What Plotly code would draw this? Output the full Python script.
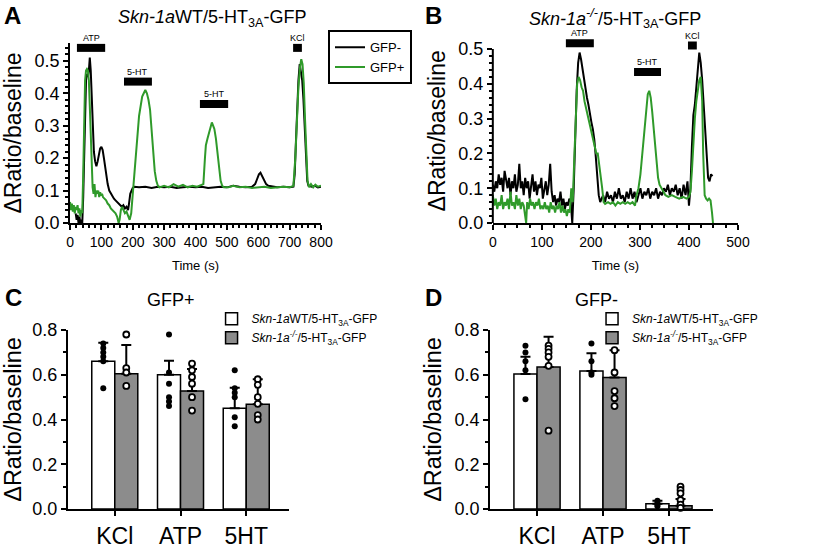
import plotly.graph_objects as go

FONT = "Liberation Sans, Arial, sans-serif"
GREEN = "#2f9a2a"
GRAY = "#8c8c8c"

# ---- panel A traces (Skn-1a WT) ----
a_pos_t = [0, 3, 6, 9, 12, 15, 18, 21, 24, 27, 30, 33, 36, 39, 42, 45, 48, 51, 54, 57,
           60, 63, 66, 69, 72, 75, 78, 81, 84, 87, 90, 93, 96, 99, 102, 105, 110, 115, 120, 125,
           130, 135, 140, 145, 150, 155, 158, 162, 166, 170, 175, 180, 185, 190, 195, 200, 205, 210, 215, 220,
           225, 230, 235, 240, 245, 250, 255, 260, 265, 270, 275, 280, 285, 300, 315, 330, 345, 360, 375, 390,
           405, 420, 425, 430, 433, 438, 443, 448, 452, 456, 460, 465, 470, 475, 480, 485, 490, 505, 520, 540,
           560, 580, 600, 620, 640, 660, 680, 700, 712, 718, 723, 728, 733, 737, 741, 745, 749, 753, 757, 762,
           768, 775, 782, 790, 800]
a_pos_v = [0.065, 0.04, 0.06, 0.035, 0.055, 0.03, 0.05, 0.04, 0.055, 0.03, 0.045, 0.02, 0.04, 0.03, 0.15, 0.35, 0.44, 0.47, 0.475, 0.47,
           0.44, 0.36, 0.27, 0.17, 0.11, 0.09, 0.12, 0.08, 0.1, 0.09, 0.1, 0.08, 0.095, 0.085, 0.09, 0.08, 0.075, 0.07, 0.06, 0.055,
           0.045, 0.04, 0.035, 0.03, 0.02, 0.0, 0.01, 0.04, 0.05, 0.04, 0.03, 0.035, 0.02, 0.01, 0.03, 0.09, 0.15, 0.22, 0.28, 0.33,
           0.36, 0.39, 0.40, 0.41, 0.40, 0.38, 0.35, 0.29, 0.22, 0.16, 0.13, 0.115, 0.11, 0.115, 0.11, 0.12, 0.112, 0.118, 0.11, 0.115,
           0.112, 0.118, 0.12, 0.2, 0.24, 0.26, 0.28, 0.30, 0.31, 0.30, 0.29, 0.26, 0.21, 0.16, 0.13, 0.115, 0.11, 0.11, 0.115, 0.11,
           0.112, 0.108, 0.11, 0.112, 0.108, 0.11, 0.112, 0.11, 0.115, 0.2, 0.32, 0.42, 0.48, 0.505, 0.49, 0.43, 0.32, 0.2, 0.13, 0.11,
           0.12, 0.11, 0.118, 0.112, 0.115]
a_neg_t = [18, 21, 24, 27, 30, 33, 36, 39, 42, 45, 48, 51, 54, 57, 60, 63, 66, 69, 72, 76,
           80, 84, 88, 92, 96, 100, 104, 108, 112, 116, 120, 125, 130, 135, 140, 145, 150, 155, 160, 165,
           170, 175, 180, 185, 188, 192, 196, 200, 205, 220, 240, 260, 280, 300, 320, 340, 360, 380, 400, 420,
           440, 460, 480, 500, 520, 540, 560, 580, 590, 596, 602, 607, 612, 618, 625, 632, 645, 660, 680, 700,
           712, 716, 720, 724, 728, 732, 736, 740, 744, 748, 752, 756, 760, 770, 780, 790, 800]
a_neg_v = [0.03, 0.01, 0.025, 0.0, 0.02, 0.0, 0.01, 0.0, 0.08, 0.22, 0.36, 0.44, 0.46, 0.45, 0.47, 0.51, 0.47, 0.38, 0.3, 0.22,
           0.19, 0.175, 0.19, 0.21, 0.23, 0.235, 0.225, 0.2, 0.17, 0.14, 0.12, 0.1, 0.09, 0.08, 0.075, 0.07, 0.065, 0.06, 0.055, 0.05,
           0.055, 0.045, 0.05, 0.04, 0.06, 0.09, 0.1, 0.108, 0.112, 0.11, 0.112, 0.108, 0.112, 0.11, 0.112, 0.108, 0.11, 0.112, 0.11, 0.112,
           0.108, 0.11, 0.112, 0.11, 0.115, 0.112, 0.11, 0.112, 0.12, 0.135, 0.15, 0.155, 0.145, 0.13, 0.12, 0.115, 0.112, 0.11, 0.112, 0.11,
           0.112, 0.15, 0.25, 0.36, 0.44, 0.49, 0.47, 0.44, 0.38, 0.28, 0.18, 0.13, 0.115, 0.112, 0.115, 0.11, 0.112]

# ---- panel B traces (Skn-1a -/-) ----
b_neg_t = [0, 3, 6, 9, 12, 15, 18, 21, 24, 27, 30, 33, 36, 39, 42, 45, 48, 51, 54, 57,
           60, 63, 66, 69, 72, 75, 78, 81, 84, 87, 90, 93, 96, 99, 102, 105, 108, 111, 114, 117,
           120, 123, 126, 129, 132, 135, 138, 141, 144, 147, 150, 153, 156, 159, 162, 165, 168, 171, 174, 177,
           180, 183, 186, 189, 192, 195, 198, 201, 204, 207, 210, 213, 216, 219, 222, 225, 229, 233, 237, 241,
           245, 249, 253, 257, 261, 265, 269, 273, 277, 281, 285, 289, 293, 297, 301, 305, 309, 313, 317, 321,
           325, 329, 333, 337, 341, 345, 349, 353, 357, 361, 365, 369, 373, 377, 381, 385, 389, 393, 397, 400,
           403, 406, 409, 412, 415, 418, 421, 424, 427, 430, 433, 436, 439, 442, 445, 448]
b_neg_v = [0.11, 0.09, 0.12, 0.10, 0.14, 0.11, 0.13, 0.09, 0.15, 0.12, 0.1, 0.13, 0.08, 0.12, 0.1, 0.14, 0.09, 0.11, 0.17, 0.1,
           0.12, 0.08, 0.13, 0.1, 0.12, 0.07, 0.11, 0.14, 0.09, 0.12, 0.08, 0.11, 0.1, 0.13, 0.07, 0.1, 0.12, 0.08, 0.11, 0.17,
           0.09, 0.06, 0.08, 0.05, 0.07, 0.06, 0.09, 0.05, 0.07, 0.04, 0.06, 0.05, 0.07, 0.06, 0.0, 0.1, 0.25, 0.38, 0.46, 0.49,
           0.47, 0.44, 0.41, 0.38, 0.36, 0.34, 0.31, 0.29, 0.27, 0.24, 0.19, 0.13, 0.08, 0.06, 0.07, 0.08, 0.06, 0.09, 0.07, 0.08,
           0.06, 0.09, 0.07, 0.1, 0.07, 0.08, 0.06, 0.09, 0.07, 0.1, 0.07, 0.09, 0.06, 0.08, 0.1, 0.07, 0.09, 0.08, 0.1, 0.07,
           0.09, 0.08, 0.1, 0.07, 0.09, 0.08, 0.1, 0.09, 0.11, 0.08, 0.1, 0.09, 0.11, 0.08, 0.1, 0.07, 0.11, 0.08, 0.12, 0.05,
           0.1, 0.22, 0.31, 0.34, 0.38, 0.44, 0.49, 0.46, 0.41, 0.33, 0.25, 0.18, 0.13, 0.12, 0.14, 0.135]
b_pos_t = [0, 3, 6, 9, 12, 15, 18, 21, 24, 27, 30, 33, 36, 39, 42, 45, 48, 51, 54, 57,
           60, 63, 66, 68, 70, 73, 76, 79, 82, 85, 88, 91, 94, 97, 100, 103, 106, 109, 112, 115,
           118, 121, 124, 127, 130, 133, 136, 139, 142, 145, 148, 151, 154, 157, 160, 163, 166, 169, 172, 175,
           178, 181, 184, 187, 190, 193, 196, 199, 202, 205, 208, 211, 214, 217, 220, 223, 226, 229, 235, 240,
           245, 250, 255, 260, 265, 270, 275, 280, 285, 290, 293, 297, 301, 305, 309, 313, 316, 319, 322, 325,
           328, 331, 334, 337, 340, 344, 348, 352, 358, 365, 372, 380, 388, 395, 400, 403, 406, 409, 412, 415,
           418, 421, 424, 427, 429, 432, 435, 438, 441, 444, 447, 449]
b_pos_v = [0.08, 0.05, 0.07, 0.04, 0.06, 0.05, 0.08, 0.04, 0.06, 0.05, 0.07, 0.04, 0.09, 0.05, 0.06, 0.04, 0.08, 0.05, 0.07, 0.04,
           0.06, 0.05, 0.02, 0.0, 0.06, 0.04, 0.07, 0.05, 0.06, 0.04, 0.06, 0.05, 0.07, 0.04, 0.05, 0.04, 0.06, 0.04, 0.05, 0.03,
           0.06, 0.04, 0.05, 0.03, 0.05, 0.04, 0.06, 0.03, 0.05, 0.03, 0.04, 0.02, 0.04, 0.03, 0.1, 0.06, 0.18, 0.32, 0.4, 0.42,
           0.41, 0.39, 0.38, 0.35, 0.33, 0.31, 0.29, 0.27, 0.25, 0.24, 0.22, 0.2, 0.2, 0.17, 0.14, 0.1, 0.06, 0.055, 0.06, 0.055,
           0.06, 0.05, 0.06, 0.055, 0.06, 0.055, 0.06, 0.055, 0.06, 0.05, 0.08, 0.1, 0.14, 0.2, 0.27, 0.33, 0.37, 0.38, 0.36, 0.32,
           0.27, 0.22, 0.17, 0.13, 0.11, 0.1, 0.09, 0.08, 0.075, 0.08, 0.075, 0.07, 0.075, 0.07, 0.075, 0.09, 0.15, 0.25, 0.3, 0.35,
           0.38, 0.41, 0.42, 0.35, 0.2, 0.08, 0.07, 0.065, 0.07, 0.065, 0.03, 0.0]

# stimulus bars: name, start, end, level
a_stim = [("ATP", 22, 112, 0.54), ("5-HT", 172, 261, 0.436), ("5-HT", 414, 504, 0.367), ("KCl", 711, 739, 0.54)]
b_stim = [("ATP", 149, 206, 0.517), ("5-HT", 288, 343, 0.434), ("KCl", 398, 416, 0.51)]

# ---- bar panels ----
groups = ["KCl", "ATP", "5HT"]
c_wt_mean = [0.66, 0.60, 0.45]
c_wt_top = [0.743, 0.663, 0.542]
c_ko_mean = [0.605, 0.527, 0.468]
c_ko_top = [0.733, 0.626, 0.58]
c_wt_pts = [[0.74, 0.72, 0.70, 0.68, 0.66, 0.54],
            [0.78, 0.61, 0.56, 0.50, 0.48, 0.46],
            [0.62, 0.54, 0.52, 0.50, 0.41, 0.37]]
c_ko_pts = [[0.78, 0.63, 0.61, 0.55],
            [0.65, 0.62, 0.59, 0.56, 0.50, 0.44],
            [0.58, 0.555, 0.50, 0.47, 0.42, 0.40]]
d_wt_mean = [0.603, 0.617, 0.024]
d_wt_top = [0.681, 0.696, 0.037]
d_ko_mean = [0.635, 0.588, 0.015]
d_ko_top = [0.77, 0.71, 0.045]
d_wt_pts = [[0.73, 0.70, 0.66, 0.62, 0.49],
            [0.74, 0.66, 0.61, 0.60],
            [0.037, 0.027, 0.02, 0.012]]
d_ko_pts = [[0.73, 0.716, 0.70, 0.68, 0.64, 0.35],
            [0.71, 0.61, 0.527, 0.495, 0.46],
            [0.10, 0.085, 0.07, 0.04, 0.02, 0.005]]

WT_NAME = "<i>Skn-1a</i>WT/5-HT<sub>3A</sub>-GFP"
KO_NAME = "<i>Skn-1a<sup>-/-</sup></i>/5-HT<sub>3A</sub>-GFP"

fig = go.Figure()

# traces A
fig.add_trace(go.Scatter(x=a_neg_t, y=a_neg_v, mode="lines", line=dict(color="black", width=2),
                         name="GFP-", legend="legend", xaxis="x", yaxis="y"))
fig.add_trace(go.Scatter(x=a_pos_t, y=a_pos_v, mode="lines", line=dict(color=GREEN, width=2),
                         name="GFP+", legend="legend", xaxis="x", yaxis="y"))
# traces B
fig.add_trace(go.Scatter(x=b_neg_t, y=b_neg_v, mode="lines", line=dict(color="black", width=2),
                         showlegend=False, xaxis="x2", yaxis="y2"))
fig.add_trace(go.Scatter(x=b_pos_t, y=b_pos_v, mode="lines", line=dict(color=GREEN, width=2),
                         showlegend=False, xaxis="x2", yaxis="y2"))

annotations = []
for stims, xa, ya in [(a_stim, "x", "y"), (b_stim, "x2", "y2")]:
    for name, t0, t1, lvl in stims:
        fig.add_trace(go.Scatter(x=[t0, t1], y=[lvl, lvl], mode="lines", line=dict(color="black", width=8),
                                 showlegend=False, xaxis=xa, yaxis=ya, hoverinfo="skip"))
        annotations.append(dict(x=(t0 + t1) / 2, y=lvl, xref=xa, yref=ya, text=name, showarrow=False,
                                xanchor="center", yanchor="bottom", yshift=3,
                                font=dict(size=9, color="black")))

# bar panels
half = 0.175
for (wm, wt, km, kt, wp, kp, xa, ya, lg) in [
    (c_wt_mean, c_wt_top, c_ko_mean, c_ko_top, c_wt_pts, c_ko_pts, "x3", "y3", "legend2"),
    (d_wt_mean, d_wt_top, d_ko_mean, d_ko_top, d_wt_pts, d_ko_pts, "x4", "y4", "legend3"),
]:
    xs = list(range(len(groups)))
    fig.add_trace(go.Bar(
        x=[i - half for i in xs], y=wm, width=2 * half, name=WT_NAME, legend=lg,
        marker=dict(color="white", line=dict(color="black", width=1.5)),
        error_y=dict(type="data", symmetric=False, array=[t - m for t, m in zip(wt, wm)],
                     arrayminus=[0] * 3, color="black", thickness=2, width=5),
        xaxis=xa, yaxis=ya))
    fig.add_trace(go.Bar(
        x=[i + half for i in xs], y=km, width=2 * half, name=KO_NAME, legend=lg,
        marker=dict(color=GRAY, line=dict(color="black", width=1.5)),
        error_y=dict(type="data", symmetric=False, array=[t - m for t, m in zip(kt, km)],
                     arrayminus=[0] * 3, color="black", thickness=2, width=5),
        xaxis=xa, yaxis=ya))
    px, py = [], []
    for i, pts in enumerate(wp):
        px += [i - half] * len(pts)
        py += pts
    fig.add_trace(go.Scatter(x=px, y=py, mode="markers", showlegend=False, cliponaxis=False,
                             marker=dict(color="black", size=6), xaxis=xa, yaxis=ya))
    px, py = [], []
    for i, pts in enumerate(kp):
        px += [i + half] * len(pts)
        py += pts
    fig.add_trace(go.Scatter(x=px, y=py, mode="markers", showlegend=False, cliponaxis=False,
                             marker=dict(color="white", size=6, line=dict(color="black", width=1.8)),
                             xaxis=xa, yaxis=ya))

axis_style = dict(showline=True, linecolor="black", linewidth=2, ticks="outside", tickcolor="black",
                  tickwidth=1.5, showgrid=False, zeroline=False, automargin=False, mirror=False)

yt = "\u0394Ratio/baseline"
fig.update_layout(
    width=820, height=550, margin=dict(l=0, r=0, t=0, b=0),
    plot_bgcolor="white", paper_bgcolor="white",
    font=dict(family=FONT, color="black"),
    barmode="overlay",
    xaxis=dict(axis_style, domain=[0.0854, 0.3915], range=[0, 800], dtick=100, ticklen=5,
               minor=dict(dtick=20, ticklen=3, ticks="outside", tickcolor="black"),
               tickfont=dict(size=14), anchor="y",
               title=dict(text="Time (s)", font=dict(size=13), standoff=12)),
    yaxis=dict(axis_style, domain=[0.5945, 0.9218], range=[0, 0.555], dtick=0.1, tickformat=".1f",
               ticklen=5, minor=dict(dtick=0.02, ticklen=3, ticks="outside", tickcolor="black"),
               tickfont=dict(size=18), anchor="x",
               title=dict(text=yt, font=dict(size=23), standoff=6)),
    xaxis2=dict(axis_style, domain=[0.601, 0.900], range=[0, 500], dtick=100, ticklen=5,
                minor=dict(dtick=25, ticklen=3, ticks="outside", tickcolor="black"),
                tickfont=dict(size=14), anchor="y2",
                title=dict(text="Time (s)", font=dict(size=13), standoff=12)),
    yaxis2=dict(axis_style, domain=[0.5945, 0.9298], range=[0, 0.53], showline=False, tickvals=[0, 0.1, 0.2, 0.3, 0.4, 0.5],
                tickformat=".1f", ticklen=5,
                minor=dict(tickvals=[0.02, 0.04, 0.06, 0.08, 0.12, 0.14, 0.16, 0.18, 0.22, 0.24, 0.26, 0.28,
                                     0.32, 0.34, 0.36, 0.38, 0.42, 0.44, 0.46, 0.48],
                           ticklen=3, ticks="outside", tickcolor="black"),
                tickfont=dict(size=18), anchor="x2",
                title=dict(text=yt, font=dict(size=23), standoff=6)),
    xaxis3=dict(axis_style, domain=[0.0829, 0.3524], range=[-0.712, 2.65], tickvals=[0, 1, 2],
                ticktext=groups, ticklen=5, tickfont=dict(size=23), anchor="y3"),
    yaxis3=dict(axis_style, domain=[0.0745, 0.40], range=[0, 0.8], dtick=0.2, tickformat=".1f", ticklen=5,
                minor=dict(dtick=0.1, ticklen=3, ticks="outside", tickcolor="black"),
                tickfont=dict(size=18), anchor="x3",
                title=dict(text=yt, font=dict(size=23.5), standoff=6)),
    xaxis4=dict(axis_style, domain=[0.5976, 0.8695], range=[-0.712, 2.667], tickvals=[0, 1, 2],
                ticktext=groups, ticklen=5, tickfont=dict(size=23), anchor="y4"),
    yaxis4=dict(axis_style, domain=[0.0745, 0.40], range=[0, 0.8], dtick=0.2, tickformat=".1f", ticklen=5,
                minor=dict(dtick=0.1, ticklen=3, ticks="outside", tickcolor="black"),
                tickfont=dict(size=18), anchor="x4",
                title=dict(text=yt, font=dict(size=23.5), standoff=6)),
    legend=dict(x=0.4, y=0.945, xanchor="left", yanchor="top", bordercolor="black", borderwidth=2,
                font=dict(size=13), bgcolor="white", itemwidth=30, tracegroupgap=0),
    legend2=dict(x=0.258, y=0.447, xanchor="left", yanchor="top", font=dict(size=12),
                 bgcolor="rgba(0,0,0,0)", tracegroupgap=0),
    legend3=dict(x=0.722, y=0.447, xanchor="left", yanchor="top", font=dict(size=12),
                 bgcolor="rgba(0,0,0,0)", tracegroupgap=0),
)

# y axis line of panel B stops at 0.5
fig.add_shape(type="line", xref="x2 domain", yref="y2", x0=0, x1=0, y0=0, y1=0.5,
              line=dict(color="black", width=2))

letters = [("A", 0.002, 1.0), ("B", 0.516, 1.0), ("C", 0.004, 0.487), ("D", 0.516, 0.487)]
for txt, lx, ly in letters:
    annotations.append(dict(x=lx, y=ly, xref="paper", yref="paper", text="<b>%s</b>" % txt,
                            xanchor="left", yanchor="top", showarrow=False, font=dict(size=24)))
titles = [(WT_NAME, 0.2585, 0.967), (KO_NAME, 0.75, 0.967), ("GFP+", 0.2085, 0.4545), ("GFP-", 0.727, 0.4545)]
for txt, tx, ty in titles:
    annotations.append(dict(x=tx, y=ty, xref="paper", yref="paper", text=txt, xanchor="center",
                            yanchor="middle", showarrow=False, font=dict(size=18)))
fig.update_layout(annotations=annotations)

fig.write_html("out.html", config={"displayModeBar": False},
               post_script="document.body.style.margin='0';")
